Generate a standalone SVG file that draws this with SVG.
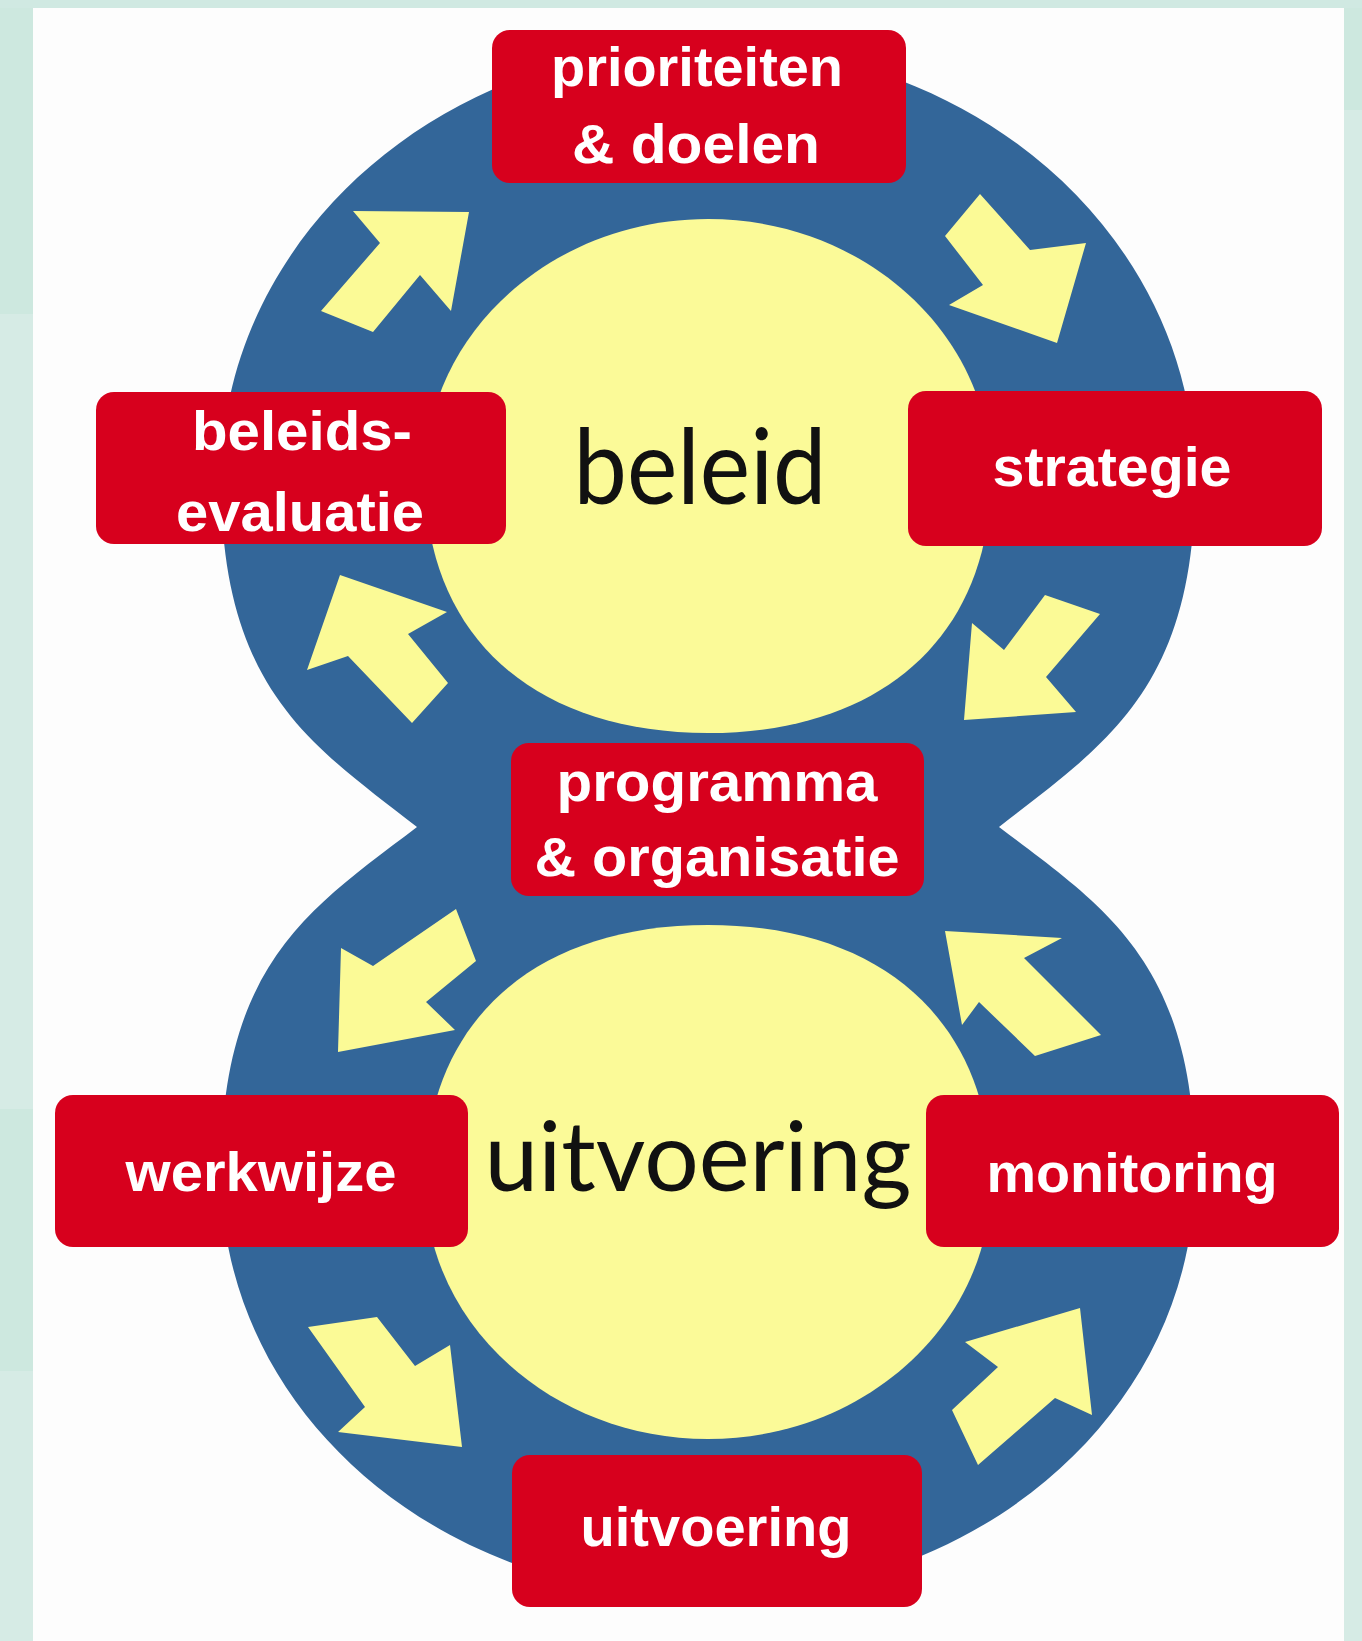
<svg xmlns="http://www.w3.org/2000/svg" width="1362" height="1641" viewBox="0 0 1362 1641">
<style>
.box{fill:#d7001d}
.lbl{font-family:"Liberation Sans",Arial,Helvetica,sans-serif;font-weight:bold;font-size:56px;fill:#ffffff;text-anchor:middle}
.big{font-family:Lato,"Open Sans",sans-serif;fill:#111111;text-anchor:middle}
.yel{fill:#fbfa98}
.arrow{fill:#fbfa96}
</style>
<g id="background">
<rect width="1362" height="1641" fill="#d6ebe5"/>
<rect x="0" y="0" width="33" height="314" fill="#cde8df"/>
<rect x="0" y="1109" width="33" height="262" fill="#cde8df"/>
<rect x="1344" y="0" width="18" height="110" fill="#cde8df"/>
<rect x="0" y="0" width="1362" height="8" fill="#d0e9e2"/>
<rect x="33" y="8" width="1311" height="1633" fill="#fdfdfd"/>
</g>
<g id="ring">
<path fill="#336699" d="M 417 827 C 312 745 221 690 221 480 C 221 240 438 45 708 45 C 978 45 1195 240 1195 480 C 1195 690 1104 745 999 827 C 1104 907 1195 962 1195 1172 C 1195 1412 978 1598 708 1598 C 438 1598 221 1412 221 1172 C 221 962 312 907 417 827 Z"/>
</g>
<g id="beleid">
<path class="yel" d="M 708 219 C 864 219 991 334 991 476 C 991 635 883 733 708 733 C 533 733 425 635 425 476 C 425 334 552 219 708 219 Z"/>
<text class="big" x="700" y="504" font-size="104" textLength="253" lengthAdjust="spacingAndGlyphs">beleid</text>
</g>
<g id="uitvoering-centre">
<path class="yel" d="M 708 1439 C 864 1439 991 1324 991 1182 C 991 1023 883 925 708 925 C 533 925 425 1023 425 1182 C 425 1324 552 1439 708 1439 Z"/>
<text class="big" x="698" y="1191" font-size="96" textLength="427" lengthAdjust="spacingAndGlyphs">uitvoering</text>
</g>
<g id="connectors">
<path class="arrow" d="M 469 212 L 353 211 L 380 243 L 321 311 L 373 332 L 420 275 L 451 311 Z"/>
<path class="arrow" d="M 980 194 L 1030 250 L 1086 243 L 1057 343 L 949 305 L 983 285 L 945 236 Z"/>
<path class="arrow" d="M 1045 595 L 1100 614 L 1046 677 L 1076 712 L 964 720 L 972 623 L 1004 650 Z"/>
<path class="arrow" d="M 340 575 L 307 670 L 348 656 L 412 723 L 448 683 L 408 634 L 447 612 Z"/>
<path class="arrow" d="M 456 909 L 476 961 L 426 1002 L 455 1030 L 338 1052 L 341 948 L 373 966 Z"/>
<path class="arrow" d="M 945 931 L 1062 938 L 1024 958 L 1101 1035 L 1035 1056 L 979 1002 L 962 1025 Z"/>
<path class="arrow" d="M 308 1327 L 377 1317 L 415 1366 L 450 1345 L 462 1447 L 338 1432 L 365 1407 Z"/>
<path class="arrow" d="M 1080 1308 L 965 1342 L 998 1367 L 952 1410 L 978 1465 L 1055 1398 L 1092 1415 Z"/>
</g>
<g id="prioriteiten">
<rect class="box" x="492" y="30" width="414" height="153" rx="18"/>
<text class="lbl" x="697" y="86" textLength="292" lengthAdjust="spacingAndGlyphs">prioriteiten</text>
<text class="lbl" x="696" y="163" textLength="248" lengthAdjust="spacingAndGlyphs">&amp; doelen</text>
</g>
<g id="beleidsevaluatie">
<rect class="box" x="96" y="392" width="410" height="152" rx="18"/>
<text class="lbl" x="302" y="450" textLength="220" lengthAdjust="spacingAndGlyphs">beleids-</text>
<text class="lbl" x="300" y="531" textLength="248" lengthAdjust="spacingAndGlyphs">evaluatie</text>
</g>
<g id="strategie">
<rect class="box" x="908" y="391" width="414" height="155" rx="18"/>
<text class="lbl" x="1112" y="486" textLength="239" lengthAdjust="spacingAndGlyphs">strategie</text>
</g>
<g id="programma">
<rect class="box" x="511" y="743" width="413" height="153" rx="18"/>
<text class="lbl" x="717" y="801" textLength="321" lengthAdjust="spacingAndGlyphs">programma</text>
<text class="lbl" x="717" y="876" textLength="365" lengthAdjust="spacingAndGlyphs">&amp; organisatie</text>
</g>
<g id="werkwijze">
<rect class="box" x="55" y="1095" width="413" height="152" rx="18"/>
<text class="lbl" x="261" y="1191" textLength="271" lengthAdjust="spacingAndGlyphs">werkwijze</text>
</g>
<g id="monitoring">
<rect class="box" x="926" y="1095" width="413" height="152" rx="18"/>
<text class="lbl" x="1132" y="1192" textLength="291" lengthAdjust="spacingAndGlyphs">monitoring</text>
</g>
<g id="uitvoering">
<rect class="box" x="512" y="1455" width="410" height="152" rx="18"/>
<text class="lbl" x="716" y="1546" textLength="271" lengthAdjust="spacingAndGlyphs">uitvoering</text>
</g>
</svg>
